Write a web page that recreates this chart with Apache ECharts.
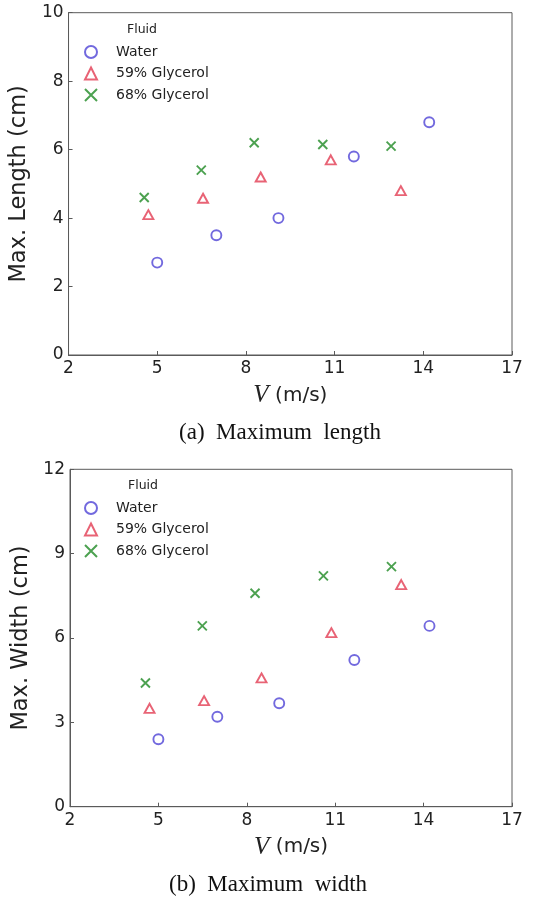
<!DOCTYPE html>
<html>
<head>
<meta charset="utf-8">
<script src="https://cdn.jsdelivr.net/npm/echarts@6/dist/echarts.min.js"></script>
<style>
  html, body { margin: 0; padding: 0; background: #fff; }
  #chart { width: 538px; height: 900px; }
</style>
</head>
<body>
<div id="chart"></div>
<script>
// Impact velocity (m/s) for each fluid
const waterV = [5.0, 7.0, 9.1, 11.65, 14.2];
const gly59V = [4.7, 6.55, 8.5, 10.87, 13.24];
const gly68V = [4.56, 6.49, 8.28, 10.6, 12.91];

// (a) Maximum length, cm
const waterLength = [2.7, 3.5, 4.0, 5.8, 6.8];
const gly59Length = [4.1, 4.58, 5.2, 5.7, 4.8];
const gly68Length = [4.6, 5.4, 6.2, 6.15, 6.1];

// (b) Maximum width, cm
const waterWidth = [2.4, 3.2, 3.68, 5.22, 6.43];
const gly59Width = [3.5, 3.77, 4.58, 6.19, 7.9];
const gly68Width = [4.4, 6.43, 7.59, 8.21, 8.54];

const seriesNames = ['Water', '59% Glycerol', '68% Glycerol'];
const xTicks = [2, 5, 8, 11, 14, 17];

const BLUE = '#4f44d6';
const RED = '#e23c52';
const GREEN = '#1f8a24';
const FRAME = '#5a5a5a';
const SANS = '"DejaVu Sans", sans-serif';
const SERIF = '"Liberation Serif", "Times New Roman", serif';

const pairs = (xs, ys) => xs.map((x, i) => [x, ys[i]]);

const styles = [
  { symbol: 'circle', symbolSize: 10, color: BLUE },
  { symbol: 'triangle', symbolSize: [10, 9], color: RED },
  { symbol: 'path://M0,0L10,10M10,0L0,10', symbolSize: 9, color: GREEN }
];

function scatter(idx, gridIdx, data) {
  const s = styles[idx];
  return {
    type: 'scatter',
    name: seriesNames[idx],
    xAxisIndex: gridIdx,
    yAxisIndex: gridIdx,
    symbol: s.symbol,
    symbolSize: s.symbolSize,
    itemStyle: { color: 'rgba(0,0,0,0)', borderColor: s.color, borderWidth: 1.9 },
    emphasis: { disabled: true },
    data: data
  };
}

function xAxis(gridIdx) {
  return {
    type: 'value', gridIndex: gridIdx, min: 2, max: 17,
    name: '{v|V}  {u|(m/s)}', nameLocation: 'middle', nameGap: 28,
    nameTextStyle: {
      rich: {
        v: { fontFamily: SERIF, fontStyle: 'italic', fontSize: 25, color: '#222' },
        u: { fontFamily: SANS, fontSize: 20, color: '#222' }
      }
    },
    axisLine: { show: true, lineStyle: { color: FRAME, width: 1 } },
    axisTick: { show: true, inside: true, length: 4, customValues: xTicks, lineStyle: { color: FRAME } },
    axisLabel: { customValues: xTicks, fontFamily: SANS, fontSize: 17, color: '#222', margin: 5 },
    splitLine: { show: false }
  };
}

function yAxis(gridIdx, max, interval, title, gap) {
  return {
    type: 'value', gridIndex: gridIdx, min: 0, max: max, interval: interval,
    name: title, nameLocation: 'middle', nameGap: gap,
    nameTextStyle: { fontFamily: SANS, fontSize: 22.5, color: '#222' },
    axisLine: { show: true, lineStyle: { color: FRAME, width: 1 } },
    axisTick: { show: true, inside: true, length: 4, lineStyle: { color: FRAME } },
    axisLabel: { fontFamily: SANS, fontSize: 17, color: '#222', margin: 5 },
    splitLine: { show: false }
  };
}

function legend(top) {
  return {
    data: seriesNames,
    orient: 'vertical',
    left: 84, top: top, padding: 0,
    itemWidth: 12, itemHeight: 12, itemGap: 7.5,
    selectedMode: false,
    textStyle: { fontFamily: SANS, fontSize: 14, color: '#222', padding: [0, 0, 0, 14] }
  };
}

const chart = echarts.init(document.getElementById('chart'), null, { renderer: 'canvas' });
chart.setOption({
  animation: false,
  backgroundColor: '#fff',
  grid: [
    { left: 63.5, top: 12.7, width: 448.5, height: 342.3, show: true, borderColor: FRAME, borderWidth: 1 },
    { left: 70, top: 469.3, width: 442, height: 337.4, show: true, borderColor: FRAME, borderWidth: 1 }
  ],
  xAxis: [xAxis(0), xAxis(1)],
  yAxis: [
    yAxis(0, 10, 2, 'Max. Length (cm)', 28),
    yAxis(1, 12, 3, 'Max. Width (cm)', 28)
  ],
  legend: [legend(45), legend(501)],
  graphic: [
    { type: 'text', style: { text: 'Fluid', x: 142, y: 30, fontFamily: SANS, fontSize: 12.5, fill: '#222', align: 'center', verticalAlign: 'middle' } },
    { type: 'text', style: { text: 'Fluid', x: 143, y: 486, fontFamily: SANS, fontSize: 12.5, fill: '#222', align: 'center', verticalAlign: 'middle' } },
    { type: 'text', style: { text: '(a)  Maximum  length', x: 280, y: 433, fontFamily: SERIF, fontSize: 23, fill: '#111', align: 'center', verticalAlign: 'middle' } },
    { type: 'text', style: { text: '(b)  Maximum  width', x: 268, y: 885, fontFamily: SERIF, fontSize: 23, fill: '#111', align: 'center', verticalAlign: 'middle' } }
  ],
  series: [
    scatter(0, 0, pairs(waterV, waterLength)),
    scatter(1, 0, pairs(gly59V, gly59Length)),
    scatter(2, 0, pairs(gly68V, gly68Length)),
    scatter(0, 1, pairs(waterV, waterWidth)),
    scatter(1, 1, pairs(gly59V, gly59Width)),
    scatter(2, 1, pairs(gly68V, gly68Width))
  ]
});
</script>
</body>
</html>
